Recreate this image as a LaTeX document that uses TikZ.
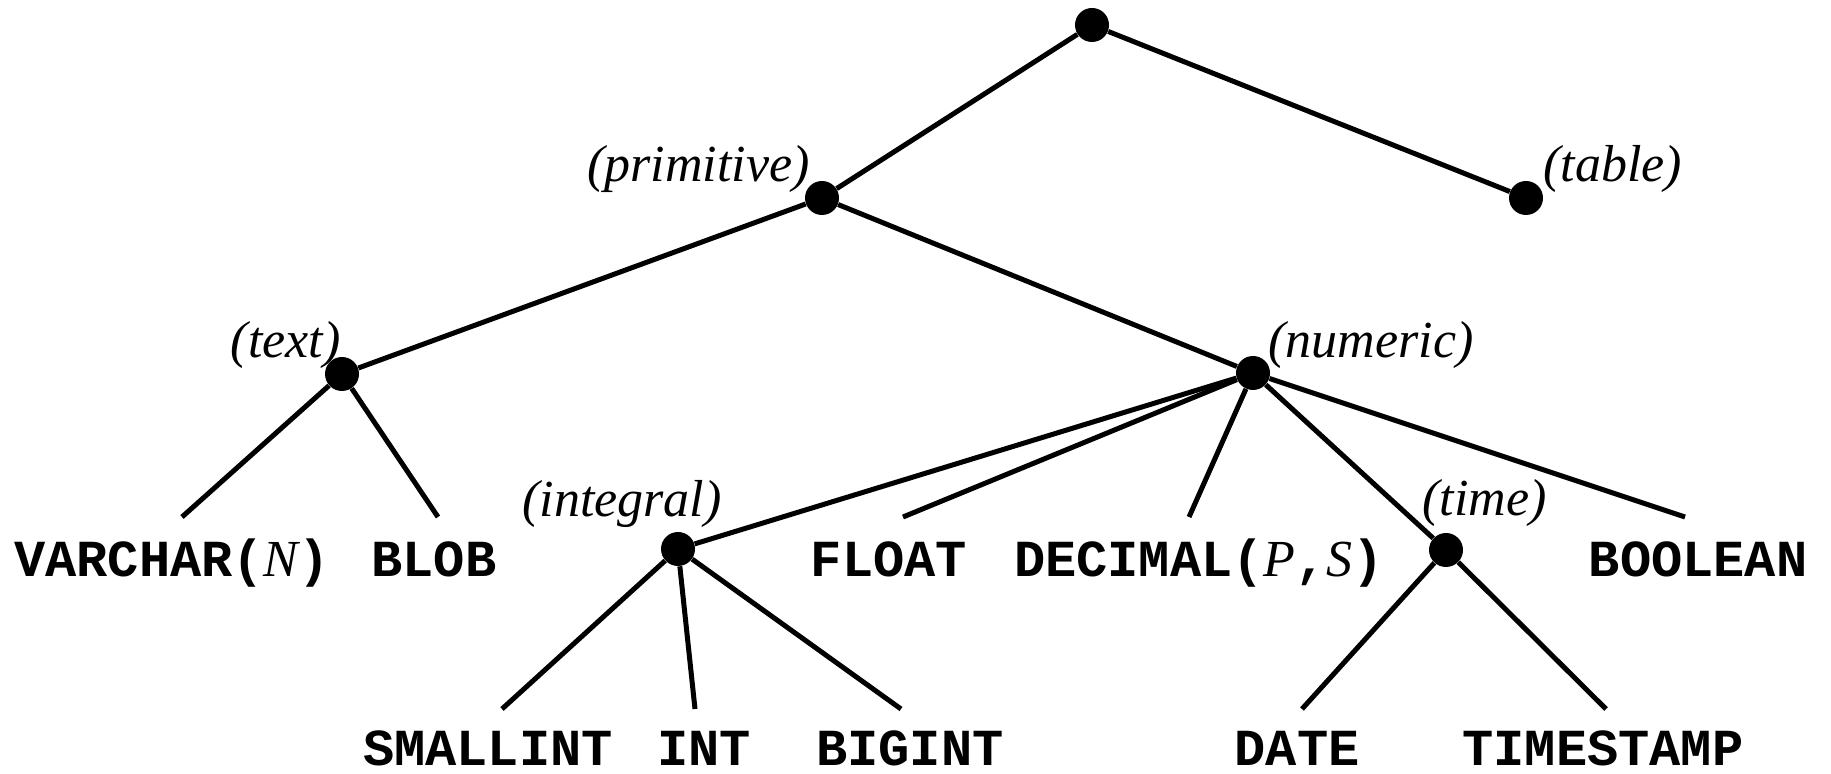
\documentclass[tikz,border=0pt]{standalone}
\usepackage{fontspec}
\setmainfont{Liberation Serif}
\setmonofont{Liberation Mono}
\begin{document}
\begin{tikzpicture}[x=0.5pt,y=-0.5pt,
  dot/.style={circle,fill=black,inner sep=0pt,minimum size=17pt},
  edge/.style={line width=2.5pt},
  leaf/.style={font=\fontsize{26}{30}\selectfont\ttfamily\bfseries,anchor=base,inner sep=0pt},
  lab/.style={font=\fontsize{26}{30}\selectfont\itshape,inner sep=0pt}]
\useasboundingbox (0,0) rectangle (1831,774);
% internal nodes
\node[dot] (root) at (1092,25) {};
\node[dot] (prim) at (822,198) {};
\node[dot] (table) at (1526,198) {};
\node[dot] (text) at (342,374) {};
\node[dot] (num) at (1253,373) {};
\node[dot] (integ) at (678,549) {};
\node[dot] (time) at (1446,550) {};
% labels
\node[lab,anchor=base east] (lprim) at (810,182) {(primitive)};
\node[lab,anchor=base west] (ltable) at (1543,182) {(table)};
\node[lab,anchor=base east] (ltext) at (341,358) {(text)};
\node[lab,anchor=base west] (lnum) at (1268,358) {(numeric)};
\node[lab,anchor=base east] (linteg) at (722,517) {(integral)};
\node[lab,anchor=base west] (ltime) at (1422,516) {(time)};
% leaves
\node[leaf] (varchar) at (172,577) {VARCHAR({\normalfont\itshape N})};
\node[leaf] (blob) at (434,577) {BLOB};
\node[leaf] (float) at (889,577) {FLOAT};
\node[leaf] (decimal) at (1199,577) {DECIMAL({\normalfont\itshape P},{\normalfont\itshape S})};
\node[leaf] (boolean) at (1698,577) {BOOLEAN};
\node[leaf] (smallint) at (488,765) {SMALLINT};
\node[leaf] (int) at (704,765) {INT};
\node[leaf] (bigint) at (910,765) {BIGINT};
\node[leaf] (date) at (1297,765) {DATE};
\node[leaf] (timestamp) at (1603,765) {TIMESTAMP};
% connector ends
\coordinate (cvarchar) at (182,517);
\coordinate (cblob) at (438,517);
\coordinate (cfloat) at (903,517);
\coordinate (cdecimal) at (1189,517);
\coordinate (cboolean) at (1685,517);
\coordinate (csmallint) at (502,709);
\coordinate (cint) at (695,709);
\coordinate (cbigint) at (901,709);
\coordinate (cdate) at (1302,709);
\coordinate (ctimestamp) at (1606,709);
% connectors
\draw[edge] (root) -- (prim);
\draw[edge] (root) -- (table);
\draw[edge] (prim) -- (text);
\draw[edge] (prim) -- (num);
\draw[edge] (text) -- (cvarchar);
\draw[edge] (text) -- (cblob);
\draw[edge] (num) -- (integ);
\draw[edge] (num) -- (cfloat);
\draw[edge] (num) -- (cdecimal);
\draw[edge] (num) -- (time);
\draw[edge] (num) -- (cboolean);
\draw[edge] (integ) -- (csmallint);
\draw[edge] (integ) -- (cint);
\draw[edge] (integ) -- (cbigint);
\draw[edge] (time) -- (cdate);
\draw[edge] (time) -- (ctimestamp);
\end{tikzpicture}
\end{document}
